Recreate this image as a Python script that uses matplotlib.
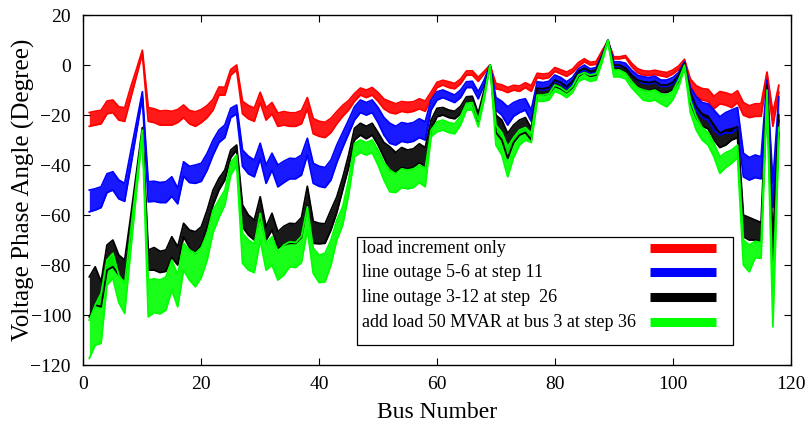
import numpy as np
import matplotlib
matplotlib.use('Agg')
import matplotlib.pyplot as plt
from matplotlib.patches import Rectangle

plt.rcParams['font.family'] = ['Liberation Serif', 'DejaVu Serif']

#Bus numbers (IEEE 118-bus system)
bus = np.arange(1, 119)

#Envelopes of each band (first step = top, last step = bottom), degrees
red_top = [-19.0, -18.5, -18.1, -14.4, -14.0, -16.7, -17.1, -9.0, -1.7, 5.9,
           -17.0, -17.5, -18.4, -18.2, -18.5, -17.8, -16.0, -18.2, -18.7, -17.8,
           -16.2, -13.7, -8.8, -8.9, -1.8, 0.0, -14.5, -16.2, -17.2, -10.9,
           -17.1, -15.0, -19.2, -18.6, -19.1, -19.1, -18.2, -13.0, -21.4, -22.5,
           -22.9, -21.3, -18.6, -16.1, -14.2, -11.4, -9.2, -10.0, -9.0, -11.0,
           -13.6, -14.6, -15.5, -14.6, -14.9, -14.7, -13.5, -14.4, -10.8, -6.9,
           -6.1, -6.7, -7.4, -5.6, -2.4, -2.3, -4.9, -2.5, 0.0, -7.4,
           -7.9, -9.0, -8.1, -8.4, -7.1, -8.2, -3.3, -3.6, -3.3, -1.0,
           -1.9, -2.8, -1.6, 1.0, 2.5, 1.1, 1.4, 5.6, 9.7, 3.3,
           3.3, 3.8, 0.8, -1.4, -2.3, -2.5, -2.1, -2.6, -3.0, -2.0,
           -0.4, 2.3, -5.6, -8.3, -9.4, -9.7, -12.5, -10.6, -11.1, -11.9,
           -10.3, -15.0, -16.3, -15.5, -15.5, -2.8, -19.1, -8.1]
red_bot = [-24.5, -24.0, -23.5, -19.5, -19.0, -22.0, -22.5, -13.5, -4.5, 4.5,
           -22.5, -23.0, -24.0, -24.0, -24.0, -23.0, -21.0, -23.5, -24.5, -23.0,
           -21.0, -18.0, -12.0, -12.0, -4.0, -2.0, -19.5, -21.5, -22.5, -15.0,
           -22.0, -19.5, -24.5, -24.0, -24.5, -24.5, -23.5, -17.5, -27.5, -28.5,
           -29.0, -27.0, -23.5, -20.5, -18.0, -14.5, -12.0, -13.0, -12.0, -14.5,
           -17.5, -19.0, -19.5, -18.5, -19.0, -18.5, -17.5, -18.5, -13.5, -9.0,
           -8.0, -9.0, -9.5, -7.5, -4.0, -4.0, -6.5, -3.5, 0.0, -9.5,
           -10.0, -11.0, -10.0, -10.5, -9.0, -10.5, -5.0, -5.5, -5.0, -2.5,
           -3.5, -4.5, -3.0, -0.5, 1.3, 0.0, 0.3, 4.8, 9.4, 2.5,
           2.5, 3.0, -0.5, -3.0, -4.0, -4.2, -3.8, -4.3, -4.8, -3.6,
           -1.8, 1.3, -8.5, -12.5, -14.0, -14.5, -17.5, -15.5, -16.0, -17.0,
           -15.0, -20.0, -21.0, -20.5, -20.5, -5.0, -24.5, -11.0]

blue_top = [-50.0, -49.5, -48.7, -43.5, -42.7, -46.0, -47.3, -35.0, -23.0, -10.7,
            -46.7, -46.5, -47.0, -46.7, -44.7, -49.3, -38.7, -40.5, -40.0, -39.3,
            -35.3, -30.0, -26.0, -24.0, -17.3, -16.0, -34.0, -36.5, -38.0, -31.3,
            -40.0, -35.3, -40.0, -38.5, -37.3, -37.5, -36.0, -29.3, -39.3, -40.5,
            -41.0, -38.0, -32.0, -27.0, -22.0, -16.7, -14.0, -15.0, -14.0, -17.0,
            -21.0, -23.3, -24.5, -23.0, -23.5, -23.0, -21.5, -22.7, -14.0, -10.7,
            -10.0, -11.0, -12.0, -10.0, -6.7, -6.5, -10.7, -6.0, 0.0, -13.0,
            -14.5, -16.7, -15.0, -14.0, -13.5, -18.0, -6.7, -7.0, -6.5, -4.0,
            -5.0, -6.7, -5.0, -1.5, 0.0, -1.5, -1.0, 4.0, 10.0, 1.3,
            1.3, 0.7, -2.0, -4.0, -4.7, -5.0, -4.5, -6.0, -6.0, -5.0,
            -3.0, 1.3, -9.0, -12.7, -15.0, -15.5, -18.0, -20.7, -19.0, -18.0,
            -17.0, -35.3, -37.0, -36.0, -36.7, -6.0, -47.0, -12.7]
blue_bot = [-58.7, -58.0, -57.0, -51.0, -50.0, -53.5, -54.5, -41.0, -27.0, -13.0,
            -54.7, -54.5, -55.0, -55.0, -52.5, -55.5, -44.5, -47.0, -47.3, -46.5,
            -42.0, -36.0, -31.0, -29.0, -21.0, -19.5, -40.5, -43.5, -44.7, -37.5,
            -47.3, -42.0, -48.7, -47.0, -45.5, -45.5, -44.0, -36.0, -47.3, -48.5,
            -49.0, -46.0, -39.0, -33.0, -27.5, -22.0, -19.0, -20.0, -19.0, -23.0,
            -28.0, -31.3, -32.0, -30.5, -31.0, -30.5, -29.0, -30.0, -18.0, -14.0,
            -13.0, -14.0, -15.0, -13.0, -9.0, -9.0, -13.5, -8.0, 0.0, -18.0,
            -20.0, -24.0, -20.5, -19.0, -18.0, -22.5, -9.5, -10.0, -9.5, -6.5,
            -7.5, -9.5, -7.5, -3.5, -2.0, -3.5, -3.0, 2.5, 9.5, -0.5,
            -0.5, -1.0, -4.0, -6.0, -7.3, -7.5, -7.0, -8.5, -8.5, -7.5,
            -5.0, 0.0, -13.0, -18.0, -21.0, -22.0, -26.0, -28.0, -27.0, -27.3,
            -25.0, -44.7, -46.0, -45.0, -45.5, -9.0, -57.0, -22.0]

black_top = [-84.7, -80.7, -86.7, -72.0, -70.0, -76.0, -78.0, -61.0, -43.0, -25.0,
             -74.0, -73.0, -74.5, -74.0, -68.7, -72.7, -63.3, -66.0, -66.7, -64.7,
             -58.0, -50.0, -45.3, -42.0, -34.0, -32.0, -56.0, -60.0, -62.0, -52.7,
             -64.7, -59.3, -66.7, -64.5, -63.3, -63.5, -61.0, -48.5, -62.5, -63.3,
             -63.5, -58.0, -52.7, -45.0, -36.0, -25.3, -23.3, -24.5, -23.3, -27.0,
             -31.0, -32.7, -35.0, -33.0, -34.0, -33.5, -31.5, -33.0, -22.0, -17.3,
             -17.0, -18.0, -18.5, -16.5, -12.7, -12.5, -19.3, -10.0, 0.0, -20.0,
             -22.0, -27.3, -24.0, -22.0, -21.0, -25.3, -9.3, -9.5, -9.0, -6.0,
             -7.0, -8.7, -6.5, -2.5, -1.3, -2.5, -2.0, 3.5, 10.0, 0.0,
             0.0, -1.3, -4.0, -6.0, -6.7, -7.0, -6.5, -8.0, -8.0, -7.0,
             -4.0, 0.7, -11.0, -16.7, -19.5, -20.5, -24.0, -27.3, -26.0, -25.5,
             -24.7, -60.0, -61.0, -62.0, -63.0, -8.0, -70.0, -20.0]
black_bot = [-100.7, -96.0, -96.7, -82.0, -80.7, -84.0, -86.0, -67.0, -47.0, -27.0,
             -82.0, -82.0, -83.0, -82.5, -77.0, -80.0, -68.7, -73.0, -75.3, -72.0,
             -65.0, -56.0, -50.0, -46.0, -37.0, -34.0, -64.7, -68.0, -70.0, -60.0,
             -70.0, -66.0, -73.3, -72.0, -71.3, -71.3, -69.0, -56.0, -71.3, -71.5,
             -71.3, -66.0, -59.0, -50.0, -41.0, -30.0, -28.0, -29.5, -28.0, -32.0,
             -37.0, -42.0, -43.0, -41.0, -41.5, -41.0, -39.0, -40.7, -26.0, -20.7,
             -20.0, -21.0, -21.5, -19.5, -15.0, -15.0, -22.5, -12.0, 0.0, -27.0,
             -30.0, -37.3, -31.0, -28.0, -27.0, -30.0, -12.0, -12.0, -11.5, -8.5,
             -9.5, -11.0, -9.0, -4.5, -3.0, -4.5, -4.0, 2.5, 9.7, -1.5,
             -1.5, -3.0, -6.5, -8.5, -10.0, -10.3, -9.5, -11.0, -11.0, -10.0,
             -6.5, -0.5, -15.0, -21.0, -24.5, -25.5, -30.0, -33.0, -32.0, -30.0,
             -29.0, -68.7, -70.0, -70.0, -70.5, -11.0, -80.0, -27.0]

green_top = [-102.0, -96.0, -91.3, -78.0, -75.3, -84.0, -87.3, -67.0, -46.5, -26.0,
             -86.0, -85.5, -86.0, -84.7, -78.0, -84.0, -71.3, -74.0, -75.3, -73.0,
             -67.3, -58.0, -54.0, -50.0, -39.0, -36.0, -67.3, -70.0, -71.5, -59.3,
             -71.3, -68.7, -74.5, -72.0, -70.7, -71.0, -68.5, -56.7, -73.3, -76.0,
             -75.3, -70.0, -62.0, -56.7, -46.0, -31.3, -30.0, -31.0, -30.0, -34.0,
             -39.0, -42.0, -43.5, -41.5, -42.0, -41.5, -40.0, -41.3, -26.0, -22.7,
             -22.0, -23.0, -23.5, -20.5, -15.3, -15.0, -22.0, -12.0, 0.0, -24.0,
             -27.0, -32.7, -29.0, -26.0, -25.0, -27.3, -12.0, -12.0, -11.5, -8.0,
             -9.0, -10.7, -8.5, -4.0, -3.0, -4.0, -3.5, 2.5, 10.0, -2.0,
             -2.0, -3.3, -6.5, -9.0, -10.0, -10.5, -10.0, -11.5, -12.0, -10.5,
             -6.0, 0.0, -14.0, -20.7, -25.0, -27.0, -31.3, -36.7, -35.0, -34.0,
             -32.0, -70.0, -72.0, -70.5, -71.0, -10.0, -90.0, -25.0]
green_bot = [-117.3, -112.0, -111.3, -88.0, -85.3, -95.0, -99.3, -75.0, -51.0, -28.0,
             -100.7, -99.0, -99.5, -98.0, -90.0, -96.7, -82.0, -86.0, -88.7, -85.0,
             -78.0, -67.0, -61.0, -56.0, -44.0, -40.0, -79.3, -82.0, -83.0, -70.0,
             -82.0, -80.0, -86.0, -84.0, -80.7, -81.0, -79.0, -66.0, -83.3, -87.0,
             -86.7, -80.0, -70.0, -64.0, -52.0, -36.7, -35.0, -36.0, -35.0, -40.0,
             -46.0, -50.7, -51.0, -49.0, -49.5, -49.0, -47.0, -48.7, -28.7, -26.7,
             -26.0, -27.0, -27.5, -24.0, -18.0, -18.0, -24.7, -14.0, 0.0, -32.0,
             -36.0, -44.7, -37.0, -32.0, -30.0, -31.0, -14.5, -14.5, -14.0, -10.5,
             -11.5, -13.0, -11.0, -6.5, -5.5, -6.5, -6.0, 1.0, 9.5, -4.7,
             -4.7, -5.5, -9.0, -11.5, -14.0, -14.5, -14.0, -15.5, -16.7, -14.0,
             -9.0, -1.0, -19.0, -26.0, -30.0, -32.0, -36.7, -43.3, -41.0, -39.3,
             -37.0, -80.0, -82.7, -77.0, -77.3, -13.0, -104.7, -30.0]

labels = ['load increment only',
          'line outage 5-6 at step 11',
          'line outage 3-12 at step  26',
          'add load 50 MVAR at bus 3 at step 36']
colors = ['#ff0000', '#0000ff', '#000000', '#00ff00']

fig = plt.figure(figsize=(8.1, 4.3), dpi=100)
ax = fig.add_axes([0.103, 0.151, 0.873, 0.814])

bands = [(red_top, red_bot), (blue_top, blue_bot),
         (black_top, black_bot), (green_top, green_bot)]
for (top, bot), c in zip(bands, colors):
    ax.fill_between(bus, bot, top, color=c, lw=0, alpha=0.9)
    ax.plot(bus, top, color=c, lw=1.3)
    ax.plot(bus, bot, color=c, lw=1.3)

ax.set_xlim(0, 120)
ax.set_ylim(-120, 20)
ax.set_xticks(range(0, 121, 20))
ax.set_yticks(range(-120, 21, 20))
ax.tick_params(direction='in', top=True, right=True, length=5, labelsize=14)
ax.tick_params(axis='x', pad=8)
ax.tick_params(axis='y', pad=9)
for s in ax.spines.values():
    s.set_linewidth(1.0)
ax.set_xlabel('Bus Number', fontsize=17, labelpad=6)
ax.set_ylabel('Voltage Phase Angle (Degree)', fontsize=18, labelpad=-3)

#Legend drawn by hand: text on the left, thick line sample on the right
ax.add_patch(Rectangle((0.387, 0.057), 0.532, 0.309, transform=ax.transAxes,
                       facecolor='white', edgecolor='black', lw=0.9, zorder=5))
row_y = [0.334, 0.265, 0.194, 0.123]
for lab, c, yy in zip(labels, colors, row_y):
    ax.text(0.394, yy, lab, transform=ax.transAxes, fontsize=13,
            ha='left', va='center', zorder=6)
    ax.plot([0.801, 0.895], [yy, yy], transform=ax.transAxes, color=c,
            lw=6.5, solid_capstyle='butt', zorder=6)

fig.savefig('out.png', dpi=100)
